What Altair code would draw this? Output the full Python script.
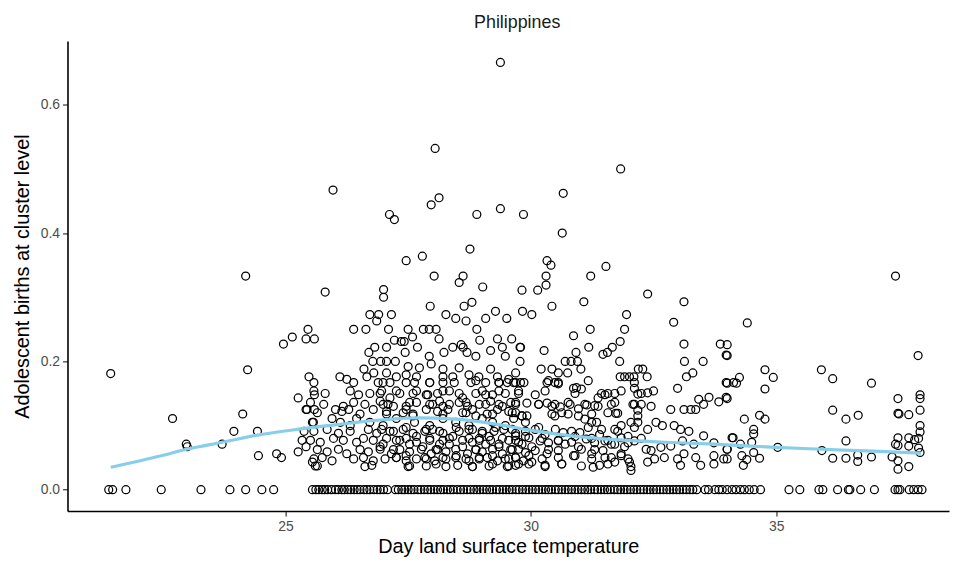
import altair as alt
import pandas as pd

# ---- points with zero adolescent births (temperature only) ----
zero_temps = [
    21.40, 21.48, 21.75, 22.47, 23.28, 23.87, 24.19, 24.52, 24.76,
    25.55, 25.62, 25.68, 25.75, 25.80, 25.86, 25.94, 26.02, 26.08, 26.15, 26.20, 26.27,
    26.33, 26.40, 26.46, 26.52, 26.60, 26.66, 26.72, 26.80, 26.87, 26.93, 27.00, 27.08,
    27.24, 27.30, 27.37, 27.43, 27.50, 27.56, 27.62, 27.70, 27.76, 27.83, 27.90, 27.96,
    28.03, 28.10, 28.16, 28.22, 28.30, 28.36, 28.42, 28.50, 28.57, 28.63, 28.70, 28.77,
    28.84, 28.90, 28.96, 29.03, 29.10, 29.16, 29.22, 29.30, 29.36, 29.43, 29.50, 29.56,
    29.62, 29.70, 29.76, 29.83, 29.90, 29.96, 30.03, 30.10, 30.16, 30.23, 30.30, 30.36,
    30.42, 30.50, 30.56, 30.63, 30.70, 30.76, 30.83, 30.90, 30.96, 31.03, 31.10, 31.16,
    31.22, 31.30, 31.36, 31.43, 31.50, 31.56, 31.62, 31.70, 31.77, 31.83, 31.90, 31.96,
    32.03, 32.10, 32.16, 32.23, 32.30, 32.37, 32.43, 32.50, 32.56, 32.63, 32.70, 32.77,
    32.83, 32.90, 32.97, 33.03, 33.10, 33.17, 33.24, 33.30, 33.38, 33.55, 33.62, 33.75,
    33.83, 33.90, 34.00, 34.10, 34.18, 34.27, 34.35, 34.45, 34.55, 34.68,
    35.26, 35.48, 35.87, 35.95, 36.25, 36.47, 36.50, 36.72, 37.00, 37.42, 37.48, 37.52,
    37.71, 37.80, 37.89, 37.97,
]

# ---- high outliers ----
points_high = [
    (29.38, 0.666), (28.05, 0.532), (31.83, 0.500), (25.97, 0.467), (27.12, 0.429),
    (27.22, 0.421), (27.97, 0.444), (28.13, 0.455), (28.90, 0.429), (29.38, 0.438),
    (29.85, 0.429), (30.66, 0.462), (30.64, 0.400), (28.76, 0.375), (27.79, 0.364),
    (27.46, 0.357), (30.33, 0.357), (37.43, 0.333), (24.19, 0.333),
]

# ---- cool side (< 25.7) ----
points_left = [
    (21.44, 0.181), (24.23, 0.187), (22.70, 0.111), (22.98, 0.071), (23.00, 0.067),
    (23.71, 0.071), (23.95, 0.091), (24.13, 0.118), (24.43, 0.091), (24.45, 0.053),
    (24.82, 0.056), (24.92, 0.050), (24.96, 0.227), (25.14, 0.238), (25.46, 0.250),
    (25.42, 0.235), (25.59, 0.235), (25.48, 0.176), (25.59, 0.148), (25.26, 0.143),
    (25.42, 0.125), (25.59, 0.125), (25.57, 0.105), (25.38, 0.091), (25.34, 0.077),
    (25.42, 0.067), (25.26, 0.059), (25.55, 0.043), (25.61, 0.037),
]

# ---- 25.4 - 29.9, upper part ----
points_mid_upper = [
    (25.81, 0.308), (28.03, 0.333), (28.62, 0.333), (28.54, 0.323), (29.02, 0.316),
    (27.00, 0.312), (27.00, 0.300), (27.95, 0.286), (28.80, 0.292), (28.64, 0.286),
    (26.72, 0.273), (26.90, 0.273), (26.86, 0.263), (27.16, 0.273), (28.27, 0.273),
    (28.47, 0.267), (28.68, 0.263), (29.08, 0.267), (29.28, 0.278), (29.51, 0.267),
    (26.39, 0.250), (26.64, 0.250), (27.10, 0.250), (27.50, 0.250), (27.81, 0.250),
    (27.93, 0.250), (28.07, 0.250), (28.90, 0.250),
    (27.22, 0.233), (27.36, 0.231), (27.42, 0.231), (27.59, 0.238), (28.13, 0.235),
    (28.41, 0.222), (28.58, 0.226), (28.62, 0.222), (28.96, 0.233), (29.32, 0.235),
    (29.61, 0.235), (29.79, 0.222),
    (26.82, 0.222), (26.70, 0.214), (27.06, 0.222), (27.44, 0.214), (27.69, 0.222),
    (27.93, 0.208), (28.23, 0.214), (28.70, 0.214), (28.88, 0.208), (29.18, 0.217),
    (29.42, 0.222), (29.48, 0.208),
    (26.78, 0.200), (26.94, 0.200), (27.06, 0.200), (27.24, 0.200), (27.50, 0.192),
    (27.73, 0.190), (27.97, 0.196), (28.21, 0.188), (28.41, 0.176), (28.54, 0.190),
    (29.18, 0.188), (29.32, 0.176), (29.69, 0.182),
    (26.11, 0.176), (26.25, 0.172), (26.60, 0.188), (26.66, 0.176), (26.80, 0.182),
    (27.06, 0.182), (27.26, 0.176), (27.46, 0.179), (27.67, 0.176), (28.21, 0.176),
    (28.74, 0.179), (28.94, 0.176),
]

# ---- 25.4 - 29.9, dense lower part ----
points_mid_lower = [
    (25.58, 0.167), (26.39, 0.167), (26.89, 0.167), (26.99, 0.167), (27.13, 0.167),
    (27.46, 0.167), (27.63, 0.167), (27.94, 0.167), (28.21, 0.167), (28.44, 0.167),
    (28.78, 0.167), (29.08, 0.167), (29.35, 0.167), (29.52, 0.167), (29.65, 0.167),
    (25.58, 0.154), (25.81, 0.150), (26.32, 0.154), (26.49, 0.148), (26.72, 0.150),
    (26.96, 0.154), (27.13, 0.143), (27.33, 0.150), (27.67, 0.154), (27.90, 0.148),
    (28.10, 0.150), (28.34, 0.154), (28.61, 0.143), (28.88, 0.150), (29.01, 0.154),
    (29.22, 0.148), (29.48, 0.150), (29.75, 0.154),
    (25.51, 0.136), (25.78, 0.133), (26.18, 0.130), (26.39, 0.136), (26.62, 0.133),
    (26.93, 0.138), (27.09, 0.133), (27.46, 0.130), (27.67, 0.136), (27.94, 0.133),
    (28.14, 0.138), (28.34, 0.133), (28.54, 0.136), (28.71, 0.130), (28.95, 0.133),
    (29.18, 0.138), (29.35, 0.133), (29.59, 0.136),
    (25.44, 0.125), (25.65, 0.120), (26.02, 0.125), (26.15, 0.122), (26.29, 0.125),
    (26.52, 0.118), (26.79, 0.125), (27.06, 0.122), (27.46, 0.125), (27.60, 0.118),
    (27.87, 0.125), (28.10, 0.122), (28.31, 0.125), (28.61, 0.120), (28.81, 0.125),
    (29.11, 0.118), (29.32, 0.125), (29.55, 0.122),
    (25.55, 0.105), (25.95, 0.111), (26.12, 0.105), (26.32, 0.100), (26.45, 0.111),
    (26.72, 0.105), (26.99, 0.100), (27.26, 0.111), (27.63, 0.105), (27.94, 0.100),
    (28.21, 0.111), (28.47, 0.105), (28.74, 0.100), (29.01, 0.111), (29.22, 0.105),
    (29.48, 0.100), (29.65, 0.111),
    (25.58, 0.091), (25.85, 0.094), (26.08, 0.088), (26.32, 0.091), (26.69, 0.094),
    (26.86, 0.088), (27.13, 0.091), (27.40, 0.094), (27.60, 0.088), (27.84, 0.091),
    (28.00, 0.094), (28.21, 0.088), (28.54, 0.091), (28.74, 0.094), (29.01, 0.088),
    (29.25, 0.091), (29.45, 0.094), (29.69, 0.088),
    (25.51, 0.077), (25.71, 0.074), (25.98, 0.080), (26.18, 0.077), (26.45, 0.074),
    (26.59, 0.080), (26.79, 0.077), (26.99, 0.071), (27.26, 0.077), (27.46, 0.080),
    (27.67, 0.074), (27.94, 0.077), (28.14, 0.071), (28.34, 0.080), (28.61, 0.077),
    (28.81, 0.074), (28.95, 0.080), (29.18, 0.077), (29.35, 0.071), (29.55, 0.077),
    (29.75, 0.074),
    (25.65, 0.0625), (25.85, 0.059), (26.08, 0.063), (26.25, 0.056), (26.52, 0.0625),
    (26.69, 0.059), (26.93, 0.063), (27.16, 0.056), (27.33, 0.0625), (27.53, 0.059),
    (27.77, 0.063), (27.97, 0.056), (28.10, 0.0625), (28.27, 0.059), (28.47, 0.063),
    (28.71, 0.056), (28.88, 0.0625), (29.01, 0.059), (29.22, 0.063), (29.42, 0.056),
    (29.59, 0.0625),
    (25.58, 0.048), (25.75, 0.050), (25.95, 0.045), (26.39, 0.048), (26.59, 0.050),
    (26.79, 0.045), (27.03, 0.048), (27.26, 0.050), (27.46, 0.045), (27.67, 0.048),
    (27.84, 0.050), (28.04, 0.045), (28.27, 0.048), (28.47, 0.050), (28.74, 0.045),
    (28.95, 0.048), (29.11, 0.050), (29.32, 0.045), (29.48, 0.048), (29.69, 0.050),
    (29.85, 0.045),
    (25.65, 0.037), (26.62, 0.036), (26.76, 0.038), (27.50, 0.036), (27.87, 0.037),
    (28.27, 0.036), (28.51, 0.038), (28.81, 0.036), (29.15, 0.037), (29.52, 0.036),
    (29.69, 0.038),
]

# ---- extra clusters in the crowded core (27 - 32.5, below 0.17) ----
points_core = [
    (27.94, 0.167), (28.88, 0.170), (29.35, 0.167), (29.55, 0.172), (29.69, 0.167),
    (30.36, 0.170), (30.56, 0.167), (31.17, 0.170), (32.11, 0.167),
    (26.93, 0.150), (27.26, 0.154), (27.60, 0.150), (27.87, 0.148), (28.21, 0.154),
    (28.54, 0.150), (29.08, 0.148), (29.35, 0.154), (29.75, 0.150), (30.09, 0.148),
    (30.29, 0.154), (30.90, 0.150), (31.51, 0.148), (31.84, 0.154), (32.25, 0.150),
    (26.99, 0.133), (27.20, 0.130), (27.53, 0.136), (28.00, 0.133), (28.21, 0.130),
    (28.68, 0.136), (29.08, 0.133), (29.42, 0.130), (29.69, 0.136), (30.16, 0.133),
    (30.43, 0.130), (30.76, 0.136), (31.10, 0.133), (31.37, 0.130), (31.71, 0.136),
    (32.11, 0.133), (32.45, 0.130),
    (27.06, 0.118), (27.40, 0.120), (27.60, 0.115), (28.21, 0.118), (28.68, 0.120),
    (28.88, 0.115), (29.22, 0.118), (29.62, 0.120), (29.82, 0.115), (30.43, 0.118),
    (30.63, 0.120), (30.97, 0.115), (31.24, 0.118), (31.57, 0.120), (32.18, 0.115),
    (26.96, 0.094), (27.20, 0.091), (27.46, 0.097), (27.87, 0.094), (28.14, 0.091),
    (28.48, 0.097), (28.81, 0.094), (29.01, 0.091), (29.28, 0.097), (29.62, 0.094),
    (29.89, 0.091), (30.16, 0.097), (30.50, 0.094), (30.83, 0.091), (31.17, 0.097),
    (31.44, 0.094), (31.77, 0.091), (32.11, 0.097), (32.38, 0.094),
    (27.06, 0.080), (27.33, 0.077), (27.67, 0.083), (27.94, 0.080), (28.21, 0.077),
    (28.41, 0.083), (28.74, 0.080), (28.95, 0.077), (29.15, 0.083), (29.42, 0.080),
    (29.69, 0.077), (29.89, 0.083), (30.23, 0.080), (30.56, 0.077), (30.90, 0.083),
    (31.24, 0.080), (31.57, 0.077), (31.98, 0.083), (32.25, 0.080),
    (26.93, 0.067), (27.20, 0.0625), (27.53, 0.071), (27.80, 0.067), (28.07, 0.0625),
    (28.34, 0.071), (28.61, 0.067), (28.88, 0.0625), (29.08, 0.071), (29.35, 0.067),
    (29.62, 0.0625), (29.82, 0.071), (30.02, 0.067), (30.36, 0.0625), (30.70, 0.071),
    (30.97, 0.067), (31.30, 0.0625), (31.64, 0.071), (31.91, 0.067),
    (27.26, 0.050), (27.46, 0.053), (27.87, 0.048), (28.21, 0.050), (28.48, 0.053),
    (28.68, 0.048), (28.95, 0.050), (29.22, 0.053), (29.55, 0.048), (29.69, 0.050),
    (29.96, 0.053), (30.23, 0.048), (30.56, 0.050), (30.90, 0.053), (31.24, 0.048),
    (31.51, 0.050), (31.84, 0.053),
    (27.53, 0.037), (28.07, 0.040), (28.81, 0.036), (29.22, 0.040), (29.55, 0.037),
    (29.96, 0.040), (30.29, 0.036), (30.63, 0.040), (31.03, 0.037), (31.57, 0.040),
    (32.04, 0.036),
]

# ---- 29.7 - 34.1 ----
points_warm = [
    (30.41, 0.350), (30.31, 0.333), (30.31, 0.319), (30.14, 0.311), (29.82, 0.311),
    (31.22, 0.333), (31.53, 0.348), (31.08, 0.293), (30.43, 0.286), (29.83, 0.278),
    (30.02, 0.273), (32.38, 0.305), (33.12, 0.293), (32.91, 0.261), (31.95, 0.273),
    (31.91, 0.250), (31.21, 0.250), (30.87, 0.240), (29.78, 0.222), (30.27, 0.217),
    (30.92, 0.214), (31.18, 0.222), (31.47, 0.211), (31.56, 0.214), (31.66, 0.222),
    (31.82, 0.231), (31.81, 0.200), (29.78, 0.200), (30.70, 0.200), (30.82, 0.200),
    (30.95, 0.200), (33.12, 0.227), (33.86, 0.227), (33.13, 0.200), (33.51, 0.200),
    (33.98, 0.210), (30.21, 0.188), (30.43, 0.188), (30.56, 0.182), (30.75, 0.182),
    (31.02, 0.188), (31.82, 0.176), (31.91, 0.176), (32.01, 0.176), (32.10, 0.176),
    (32.19, 0.188), (32.28, 0.188), (32.37, 0.176), (33.17, 0.176), (33.30, 0.182),
    (33.98, 0.167),
    (29.79, 0.167), (29.86, 0.167), (30.33, 0.167), (30.49, 0.167), (30.56, 0.165),
    (30.87, 0.158), (30.93, 0.159), (31.03, 0.157), (31.44, 0.150), (31.57, 0.150),
    (31.71, 0.150), (31.37, 0.143), (32.11, 0.158), (32.18, 0.149), (32.38, 0.151),
    (32.50, 0.154), (32.99, 0.158), (33.42, 0.141), (33.63, 0.144), (33.83, 0.137),
    (33.98, 0.144), (34.13, 0.167),
    (29.69, 0.133), (29.92, 0.135), (30.16, 0.133), (30.33, 0.135), (30.49, 0.133),
    (30.60, 0.129), (30.80, 0.133), (30.97, 0.126), (31.14, 0.132), (31.30, 0.131),
    (31.64, 0.133), (32.08, 0.133), (32.25, 0.133), (32.85, 0.125), (33.12, 0.125),
    (33.26, 0.125), (33.36, 0.125), (33.52, 0.133),
    (29.69, 0.120), (29.82, 0.115), (29.92, 0.115), (30.49, 0.115), (30.76, 0.118),
    (31.10, 0.110), (31.24, 0.105), (31.34, 0.105), (31.73, 0.119), (31.77, 0.119),
    (32.18, 0.124), (32.18, 0.105), (32.55, 0.105), (32.68, 0.100), (32.92, 0.100),
    (33.05, 0.094), (33.22, 0.091),
    (29.89, 0.105), (30.09, 0.094), (30.29, 0.086), (30.66, 0.089), (31.00, 0.089),
    (31.40, 0.086), (31.71, 0.094), (31.84, 0.100), (32.04, 0.105),
    (29.69, 0.084), (29.96, 0.081), (30.19, 0.076), (30.36, 0.073), (30.56, 0.076),
    (30.83, 0.074), (31.13, 0.079), (31.30, 0.073), (31.51, 0.076), (31.71, 0.071),
    (31.84, 0.081), (31.98, 0.073), (32.11, 0.076), (32.35, 0.063), (32.45, 0.061),
    (32.65, 0.066), (32.85, 0.068), (33.09, 0.076), (33.32, 0.071), (33.52, 0.084),
    (33.73, 0.073), (34.00, 0.063), (34.10, 0.081),
    (29.75, 0.063), (29.89, 0.058), (30.09, 0.061), (30.33, 0.056), (30.56, 0.061),
    (30.87, 0.053), (31.03, 0.063), (31.24, 0.056), (31.47, 0.061), (31.64, 0.050),
    (31.84, 0.056), (31.98, 0.048), (32.52, 0.048), (32.72, 0.050), (32.99, 0.048),
    (33.12, 0.056), (33.36, 0.050), (33.73, 0.053), (33.93, 0.048),
    (29.75, 0.040), (30.02, 0.043), (30.29, 0.038), (30.63, 0.040), (31.27, 0.035),
    (31.40, 0.038), (31.71, 0.043), (32.01, 0.043), (32.38, 0.043), (33.05, 0.038),
    (33.46, 0.038), (33.73, 0.040), (32.04, 0.030),
]

# ---- hottest clusters (> 34) ----
points_right = [
    (34.41, 0.260), (37.89, 0.209), (34.00, 0.226), (34.00, 0.209), (34.77, 0.187),
    (34.94, 0.175), (35.92, 0.187), (36.15, 0.173), (34.00, 0.166), (34.19, 0.166),
    (34.25, 0.175), (34.77, 0.157), (34.00, 0.142), (36.94, 0.166), (37.48, 0.142),
    (37.93, 0.148), (37.93, 0.142), (37.93, 0.124), (37.48, 0.119), (37.50, 0.118),
    (37.70, 0.117), (36.15, 0.124), (34.35, 0.110), (34.66, 0.116), (34.77, 0.110),
    (34.54, 0.094), (34.54, 0.087), (36.42, 0.110), (36.67, 0.116), (37.93, 0.100),
    (37.93, 0.090), (34.12, 0.081), (34.27, 0.071), (34.50, 0.074), (36.42, 0.076),
    (37.48, 0.081), (37.70, 0.081), (37.82, 0.078), (37.90, 0.080), (37.43, 0.071),
    (37.48, 0.069), (37.70, 0.068), (37.90, 0.065), (35.03, 0.066), (35.93, 0.061),
    (34.00, 0.063), (34.00, 0.048), (34.30, 0.053), (34.40, 0.047), (34.54, 0.058),
    (34.66, 0.049), (34.33, 0.038), (36.15, 0.049), (36.42, 0.049), (36.66, 0.054),
    (36.66, 0.044), (36.94, 0.051), (37.36, 0.051), (37.48, 0.045), (37.48, 0.032),
    (37.70, 0.036), (37.93, 0.058),
]

# ---- smooth trend ----
smooth_temp = [21.44, 22.47, 22.98, 23.71, 24.43, 25.24, 26.00, 26.45, 27.00, 27.67,
               28.47, 29.22, 29.89, 30.70, 31.71, 32.72, 33.73, 35.00, 35.95, 36.96, 37.95]
smooth_births = [0.035, 0.053, 0.063, 0.074, 0.085, 0.094, 0.101, 0.105, 0.109, 0.112,
                 0.110, 0.103, 0.094, 0.085, 0.078, 0.074, 0.071, 0.066, 0.063, 0.060, 0.057]

x_ticks = [25, 30, 35]
y_ticks = [0, 0.2, 0.4, 0.6]

rows = [(t, 0.0) for t in zero_temps]
for grp in (points_high, points_left, points_mid_upper, points_mid_lower, points_core,
            points_warm, points_right):
    rows.extend(grp)
df = pd.DataFrame(rows, columns=["temp", "births"])
smooth = pd.DataFrame({"temp": smooth_temp, "births": smooth_births})

FONT = "Liberation Sans"
xscale = alt.Scale(domain=[20.56, 38.52], nice=False, zero=False)
yscale = alt.Scale(domain=[-0.0333, 0.6993], nice=False, zero=False)

common_axis = dict(
    grid=False, domainColor="black", domainWidth=1.6, tickColor="#333333", tickSize=5,
    tickWidth=1.2, labelColor="#4d4d4d", labelFontSize=14, labelFont=FONT,
    titleFont=FONT, titleFontSize=20, titleFontWeight="normal", titleColor="black",
)
xaxis = alt.Axis(title="Day land surface temperature", values=x_ticks,
                 labelPadding=4, titlePadding=3, **common_axis)
yaxis = alt.Axis(title="Adolescent births at cluster level", values=y_ticks,
                 format=".1f", labelPadding=3, titlePadding=8, **common_axis)

pts = alt.Chart(df).mark_point(
    filled=False, color="black", size=64, strokeWidth=1.25, opacity=1
).encode(
    x=alt.X("temp:Q", scale=xscale, axis=xaxis),
    y=alt.Y("births:Q", scale=yscale, axis=yaxis),
)

line = alt.Chart(smooth).mark_line(
    color="#87CEEB", strokeWidth=3.2, interpolate="monotone"
).encode(
    x=alt.X("temp:Q", scale=xscale),
    y=alt.Y("births:Q", scale=yscale),
)

chart = alt.layer(pts, line).properties(
    width=889,
    height=474,
    autosize=alt.AutoSizeParams(type="none"),
    padding={"left": 60, "top": 31, "right": 2, "bottom": 45},
    title=alt.TitleParams("Philippines", fontSize=18, fontWeight="normal", font=FONT,
                          color="#1a1a1a", anchor="middle", offset=9, dx=9),
).configure_view(stroke=None)

chart.save("out.html", embed_options={"renderer": "svg", "actions": False})
